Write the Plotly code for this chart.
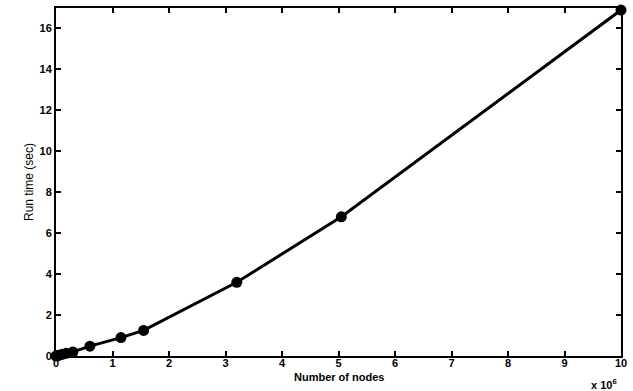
import plotly.graph_objects as go

nodes_millions = [0.0, 0.03, 0.07, 0.12, 0.18, 0.3, 0.6, 1.15, 1.55, 3.2, 5.05, 10.0]
run_time_sec = [0.0, 0.02, 0.05, 0.09, 0.13, 0.2, 0.48, 0.9, 1.25, 3.6, 6.8, 16.9]
x_ticks = [0, 1, 2, 3, 4, 5, 6, 7, 8, 9, 10]
y_ticks = [0, 2, 4, 6, 8, 10, 12, 14, 16]

fig = go.Figure()
fig.add_trace(go.Scatter(
    x=nodes_millions, y=run_time_sec, mode="lines+markers",
    line=dict(color="black", width=3),
    marker=dict(color="black", size=11, symbol="circle"),
    cliponaxis=False, showlegend=False,
))

tickfont = dict(family="Liberation Sans, Arial", size=11, color="black", weight="bold")
fig.update_layout(
    width=633, height=391,
    margin=dict(l=56, r=6, t=8, b=35),
    paper_bgcolor="white", plot_bgcolor="white",
    xaxis=dict(range=[0, 10], tickvals=x_ticks, ticks="inside", ticklen=5, tickwidth=1.5,
               tickcolor="black", showline=True, linecolor="black", linewidth=2, mirror="allticks",
               showgrid=False, zeroline=False, tickfont=tickfont, ticklabelstandoff=-4),
    yaxis=dict(range=[0, 17], tickvals=y_ticks, ticks="inside", ticklen=5, tickwidth=1.5,
               tickcolor="black", showline=True, linecolor="black", linewidth=2, mirror="allticks",
               showgrid=False, zeroline=False, tickfont=tickfont),
    annotations=[
        dict(text="Number of nodes", xref="paper", yref="paper", x=0.5, y=0,
             xanchor="center", yanchor="middle", yshift=-21, showarrow=False,
             font=dict(family="Liberation Sans, Arial", size=11, color="black", weight="bold")),
        dict(text="Run time (sec)", xref="paper", yref="paper", x=0, y=0.5, textangle=-90,
             xanchor="center", yanchor="middle", xshift=-27, showarrow=False,
             font=dict(family="Liberation Sans Narrow, Liberation Sans, Arial", size=12, color="black")),
        dict(text="x 10<sup>6</sup>", xref="paper", yref="paper", x=1.0, y=0,
             xanchor="right", yanchor="middle", yshift=-28, xshift=-2, showarrow=False,
             font=dict(family="Liberation Sans, Arial", size=11, color="black", weight="bold")),
    ],
)

fig.write_html("out.html")
